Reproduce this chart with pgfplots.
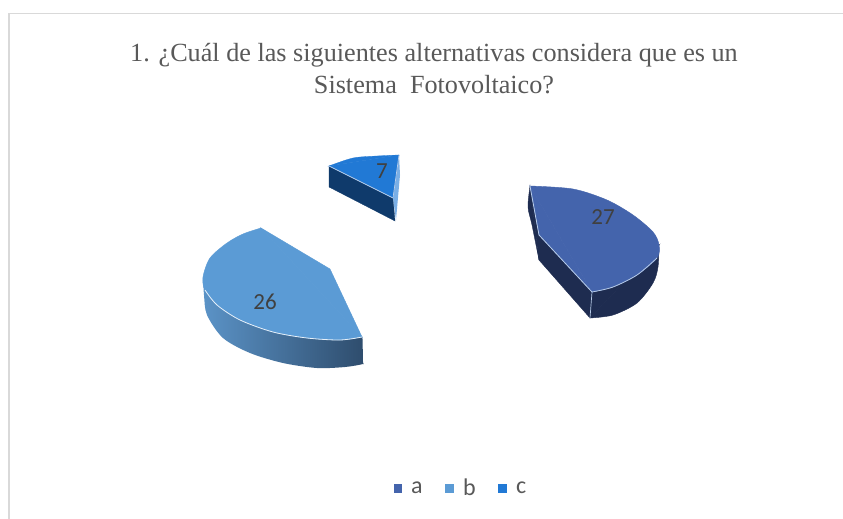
\documentclass[border=0pt]{standalone}
\usepackage{fontspec}
\setmainfont{Liberation Serif}
\newfontfamily\calib{Carlito}
\usepackage{pgfplots}
\pgfplotsset{compat=1.18}
\definecolor{aTop}{HTML}{4464AC}
\definecolor{aSide}{HTML}{1E2C50}
\definecolor{bTop}{HTML}{5B9BD5}
\definecolor{bL}{HTML}{5B93C7}
\definecolor{bR}{HTML}{2E4C6C}
\definecolor{cTop}{HTML}{2179D5}
\definecolor{cSide}{HTML}{0F3A6B}
\definecolor{edge}{HTML}{B8CCE8}
\definecolor{frameC}{HTML}{D9D9D9}
\begin{document}
\begin{tikzpicture}
\begin{axis}[
  width=843pt,height=519pt,scale only axis,
  xmin=0,xmax=843,ymin=0,ymax=519,y dir=reverse,
  axis lines=none,clip=true,
  legend columns=3,
  legend style={draw=none,fill=none,at={(axis cs:461,488)},anchor=center,
    font=\calib\fontsize{24}{26}\selectfont,text=black!65,
    /tikz/every odd column/.append style={column sep=8pt},
    /tikz/every even column/.append style={column sep=21pt}},
]
% page extent
\addplot[fill=white,draw=none,forget plot] coordinates {(0,0) (843,0) (843,519) (0,519)} -- cycle;
% frame
\addplot[frameC,line width=1.5pt,forget plot] coordinates {(9,519) (9,13.5) (843,13.5)};
% slice a sides
\addplot[fill=aSide,draw=aSide,line width=.4pt,smooth,forget plot] coordinates {(530,186) (528,207) (532,225) (539,260)} -- cycle;
\addplot[fill=aSide,draw=aSide,line width=.4pt,forget plot] coordinates {(530,186) (539,260) (590,318) (659,245) (592,292) (539,235)} -- cycle;
\addplot[fill=aSide,draw=aSide,line width=.4pt,smooth,forget plot] coordinates {(590,318) (613,315) (637,303) (653,283) (658,267) (659,245)} -- cycle;
\addplot[edge,line width=.7pt,forget plot] coordinates {(592,292) (590,318)};
% slice a top
\addplot[fill=aTop,draw=aTop,line width=.4pt,smooth,forget plot] coordinates {(530,186) (573,189) (607,200) (633,215) (653,232) (659,245) (657,258) (637,275) (613,287) (592,292)} -- cycle;
\addplot[fill=aTop,draw=aTop,line width=.4pt,forget plot] coordinates {(530,186) (592,292) (539,235)} -- cycle;
\addplot[edge,line width=.8pt,forget plot] coordinates {(530,186) (539,235) (592,292)};
\addplot[edge,line width=.8pt,smooth,forget plot] coordinates {(592,292) (613,287) (637,275) (657,258)};
% slice b side
\addplot[left color=bL,right color=bR,draw=none,smooth,forget plot] coordinates {(203,277) (204,295) (207,315) (223,338) (250,353) (283,363) (317,368) (345,367) (363,364) (363,362) (362.5,339) (362,337)} -- cycle;
% slice b top
\addplot[fill=bTop,draw=bTop,line width=.4pt,smooth,forget plot] coordinates {(362,337) (340,340) (307,338) (273,332) (240,320) (217,305) (205,290) (203,277) (210,258) (227,243) (243,234) (261,228)} -- cycle;
\addplot[fill=bTop,draw=bTop,line width=.4pt,forget plot] coordinates {(261,228) (330,269) (362,337)} -- cycle;
\addplot[white!85!bTop,line width=.8pt,smooth,forget plot] coordinates {(362,337) (340,340) (307,338) (273,332) (240,320) (217,305) (205,290)};
% slice c sides
\addplot[fill=cSide,draw=cSide,line width=.3pt,forget plot] coordinates {(329,166) (329,187) (395,221) (393,198)} -- cycle;
\addplot[fill=cTop!60!white,draw=none,forget plot] coordinates {(399,155) (400,175) (396,220) (393,198)} -- cycle;
% slice c top
\addplot[fill=cTop,draw=cTop,line width=.3pt,smooth,forget plot] coordinates {(329,166) (353,158) (377,156) (399,155)} -- cycle;
\addplot[fill=cTop,draw=cTop,line width=.3pt,forget plot] coordinates {(329,166) (399,155) (393,198)} -- cycle;
\addplot[edge,line width=.7pt,forget plot] coordinates {(329,166) (393,198) (399,155)};
% legend
\addlegendimage{only marks,mark=square*,mark size=3.7pt,color=aTop}\addlegendentry{a}
\addlegendimage{only marks,mark=square*,mark size=3.7pt,color=bTop}\addlegendentry{b}
\addlegendimage{only marks,mark=square*,mark size=3.7pt,color=cTop}\addlegendentry{c}
% labels
\node[font=\calib\fontsize{23}{24}\selectfont,text=black!75] at (axis cs:603,217) {27};
\node[font=\calib\fontsize{23}{24}\selectfont,text=black!75] at (axis cs:265,302) {26};
\node[font=\calib\fontsize{23}{24}\selectfont,text=black!75] at (axis cs:382,171) {7};
% title
\node[font=\fontsize{26.2}{32}\selectfont,text=black!65,align=center] at (axis cs:434,69) {1. ¿Cuál de las siguientes alternativas considera que es un\\Sistema~~Fotovoltaico?};
\end{axis}
\end{tikzpicture}
\end{document}
